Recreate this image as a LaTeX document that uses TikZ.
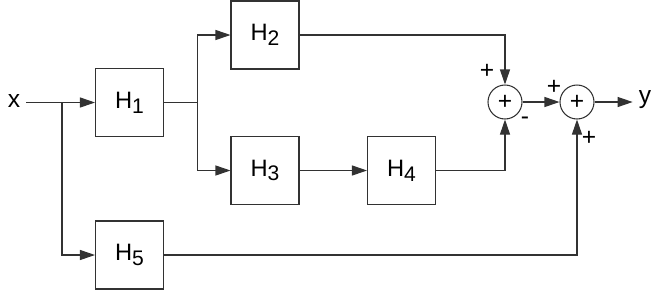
\documentclass[tikz,border=0pt]{standalone}
\usepackage{fontspec}
\setmainfont{Liberation Sans}
\usetikzlibrary{arrows.meta,positioning}
\definecolor{linegray}{RGB}{50,50,50}
\tikzset{
  >={Triangle[length=3mm,width=2mm]},
  blk/.style={draw=linegray,line width=0.6pt,minimum size=13.6mm,inner sep=0pt,
    font=\fontsize{13.5}{15}\selectfont},
  sum/.style={circle,draw=linegray,line width=0.6pt,fill=white,minimum size=6.8mm,
    inner sep=0pt,font=\fontsize{14}{15}\selectfont},
  sig/.style={font=\fontsize{14}{15}\selectfont},
  sgn/.style={font=\fontsize{14}{15}\selectfont,inner sep=0pt},
  flow/.style={->,line width=0.6pt,draw=linegray},
  wire/.style={line width=0.6pt,draw=linegray},
}
\newcommand{\Hsub}[1]{H\raisebox{-0.2em}{\fontsize{12}{12}\selectfont #1}}

\begin{document}
\begin{tikzpicture}[x=0.02cm,y=-0.02cm]
  \useasboundingbox (0,0) rectangle (654,299);
  % blocks
  \node[sig] (in) at (14,101) {x};
  \node[blk] (h1) at (129.5,102.5) {\Hsub{1}};
  \node[blk] (h2) at (265,35) {\Hsub{2}};
  \node[blk] (h3) at (265,170.5) {\Hsub{3}};
  \node[blk] (h4) at (401.5,170.5) {\Hsub{4}};
  \node[blk] (h5) at (129.5,255) {\Hsub{5}};
  \node[sum] (s1) at (505,102) {+};
  \node[sum] (s2) at (577,102) {+};
  \node[sig] (out) at (645,100) {y};
  \coordinate (b1) at (62,102.5);
  \coordinate (b2) at (197.5,102.5);
  % signs
  \foreach \p/\t/\n in {{(487,71)}/+/p1,{(525,121)}/-/m1,{(554,87)}/+/p2,{(589,138)}/+/p3}
    \node[sgn] (\n) at \p {\t};
  % connections
  \draw[flow] (in.east |- b1) -- (h1.west);
  \draw[flow] (b1) |- (h5.west);
  \draw[wire] (h1.east) -- (b2);
  \draw[flow] (b2) |- (h2.west);
  \draw[flow] (b2) |- (h3.west);
  \draw[flow] (h3) -- (h4);
  \draw[flow] (h2.east) -| (s1.north);
  \draw[flow] (h4.east) -| (s1.south);
  \draw[flow] (h5.east) -| (s2.south);
  \draw[flow] (s1) -- (s2);
  \draw[flow] (s2) -- (out.west |- s2);
\end{tikzpicture}
\end{document}
